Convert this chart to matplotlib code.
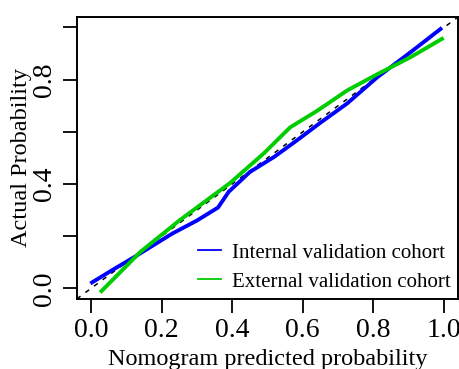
import matplotlib
matplotlib.use("Agg")
import matplotlib.pyplot as plt

# calibration curves
internal_x = [0.003, 0.06, 0.12, 0.23, 0.30, 0.36, 0.39, 0.45, 0.52, 0.583, 0.65, 0.725, 0.81, 0.91, 0.99]
internal_y = [0.023, 0.07, 0.118, 0.21, 0.26, 0.31, 0.37, 0.446, 0.505, 0.567, 0.635, 0.708, 0.808, 0.91, 0.994]

external_x = [0.03, 0.14, 0.25, 0.394, 0.49, 0.564, 0.64, 0.725, 0.81, 0.904, 0.994]
external_y = [-0.01, 0.14, 0.26, 0.404, 0.518, 0.617, 0.68, 0.758, 0.82, 0.885, 0.956]

x_ticks = [0.0, 0.2, 0.4, 0.6, 0.8, 1.0]
y_ticks = [0.0, 0.2, 0.4, 0.6, 0.8, 1.0]
y_tick_labels = ["0.0", "", "0.4", "", "0.8", ""]

plt.rcParams['font.family'] = ['Liberation Serif', 'DejaVu Serif']

fig = plt.figure(figsize=(4.6, 3.69), dpi=100)
ax = fig.add_axes([0.167, 0.19, 0.829, 0.764])

ax.axline((0, 0), (1, 1), color='black', linestyle=(0, (3, 4)), linewidth=1.1)
ax.plot(internal_x, internal_y, color='#0000FF', linewidth=2.8, label='Internal validation cohort')
ax.plot(external_x, external_y, color='#00CD00', linewidth=2.8, label='External validation cohort')

ax.set_xlim(-0.04, 1.04)
ax.set_ylim(-0.04, 1.04)
ax.set_xticks(x_ticks)
ax.set_xticklabels([f"{v:.1f}" for v in x_ticks])
ax.set_yticks(y_ticks)
ax.set_yticklabels(y_tick_labels, rotation=90, va='center')
ax.tick_params(direction='out', length=10, width=1.3, labelsize=20, pad=4)
for s in ax.spines.values():
    s.set_linewidth(1.4)

ax.set_xlabel('Nomogram predicted probability', fontsize=17.5, labelpad=4)
ax.set_ylabel('Actual Probability', fontsize=17.5, labelpad=0)

leg = ax.legend(loc='lower right', frameon=False, fontsize=15, handlelength=1.1,
                handletextpad=0.55, borderaxespad=0.0, borderpad=0.35,
                labelspacing=0.45)
for line in leg.get_lines():
    line.set_linewidth(1.3)

fig.savefig('out.png', dpi=100)
